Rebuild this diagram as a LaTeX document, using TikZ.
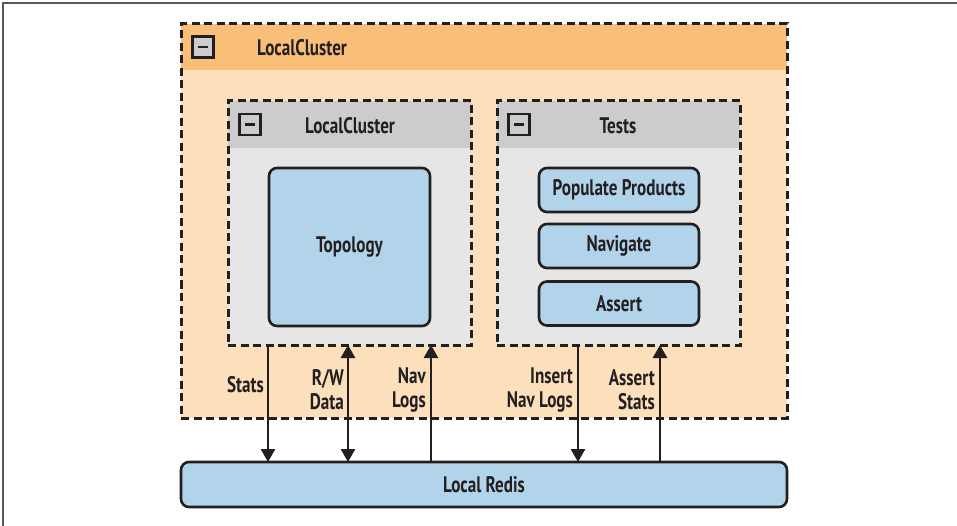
\documentclass[tikz,border=0pt]{standalone}
\usepackage{fontspec}
\setmainfont{PT Sans}[FakeStretch=0.76]
\usetikzlibrary{arrows.meta}
\definecolor{ink}{HTML}{231F20}
\definecolor{orhead}{HTML}{F9BE78}
\definecolor{orbody}{HTML}{FCDFBB}
\definecolor{gyhead}{HTML}{CCCCCC}
\definecolor{gybody}{HTML}{E6E6E6}
\definecolor{blu}{HTML}{B1D4EA}
\begin{document}
\begin{tikzpicture}[x=1pt,y=-1pt,
  font=\fontsize{22.5}{24}\selectfont\bfseries, text=ink,
  container/.style={draw=ink, line width=3pt, dash pattern=on 8pt off 4.5pt,
    anchor=north west, inner sep=0pt, outer sep=0pt},
  header/.style n args={2}{path picture={\fill[#1] (path picture bounding box.north west)
      rectangle ([yshift=-#2]path picture bounding box.north east);}},
  bluebox/.style={draw=ink, line width=2.6pt, fill=blu, rounded corners=8pt,
    inner sep=0pt, outer sep=0pt},
  minusbox/.style={draw=ink, line width=2.6pt, fill=gyhead, minimum size=21pt,
    inner sep=0pt, path picture={\draw[ink, line width=2.6pt]
      ([xshift=-5pt]path picture bounding box.center) -- ([xshift=5pt]path picture bounding box.center);}},
  title/.style={inner sep=0pt},
  lbl/.style={align=right, anchor=east, inner sep=0pt},
  arr/.style={draw=ink, line width=2.6pt, -{Triangle[width=14pt,length=13pt]}},
  darr/.style={draw=ink, line width=2.6pt, {Triangle[width=14pt,length=13pt]}-{Triangle[width=14pt,length=13pt]}}
]
\useasboundingbox (0,0) rectangle (957,526);
\fill[white] (0,0) rectangle (957,526);
\draw[black!65, line width=1.3pt] (3,526) -- (3,3) -- (957,3);

% outer container
\node[container, fill=orbody, header={orhead}{46pt},
  minimum width=606pt, minimum height=394pt] (outer) at (181,24) {};
\node[minusbox] (m1) at (203,47) {};
\node[title] (t1) at (302,48) {LocalCluster};

% inner LocalCluster
\node[container, fill=gybody, header={gyhead}{47pt},
  minimum width=243pt, minimum height=244pt] (lc) at (228,101) {};
\node[minusbox] (m2) at (250,124.5) {};
\node[title] (t2) at (350,126) {LocalCluster};
\node[bluebox, minimum width=161pt, minimum height=158pt] (topo) at (349.5,247) {Topology};

% Tests
\node[container, fill=gybody, header={gyhead}{47pt},
  minimum width=243pt, minimum height=244pt] (tests) at (497,101) {};
\node[minusbox] (m3) at (519,124.5) {};
\node[title] (t3) at (618,126) {Tests};
\node[bluebox, minimum width=160pt, minimum height=44pt] (pp) at (619,190) {Populate Products};
\node[bluebox, minimum width=160pt, minimum height=44pt] (nav) at (619,246) {Navigate};
\node[bluebox, minimum width=160pt, minimum height=44pt] (asrt) at (619,303.5) {Assert};

% Redis
\node[bluebox, minimum width=606pt, minimum height=45pt] (redis) at (484,484.5) {Local Redis};

% connectors
\draw[arr] ([xshift=-81.5pt]lc.south) -- ([xshift=-81.5pt]lc.south |- redis.north);
\draw[darr] ([xshift=-1.5pt]lc.south) -- ([xshift=-1.5pt]lc.south |- redis.north);
\draw[arr] ([xshift=81.5pt]lc.south |- redis.north) -- ([xshift=81.5pt]lc.south);
\draw[arr] ([xshift=-40.5pt]tests.south) -- ([xshift=-40.5pt]tests.south |- redis.north);
\draw[arr] ([xshift=41.5pt]tests.south |- redis.north) -- ([xshift=41.5pt]tests.south);

% labels
\node[lbl] (l1) at (264,385) {Stats};
\node[lbl] (l2) at (344,390) {R/W\\Data};
\node[lbl] (l3) at (426,390) {Nav\\Logs};
\node[lbl] (l4) at (573,390) {Insert\\Nav Logs};
\node[lbl] (l5) at (655,390) {Assert\\Stats};
\end{tikzpicture}
\end{document}
